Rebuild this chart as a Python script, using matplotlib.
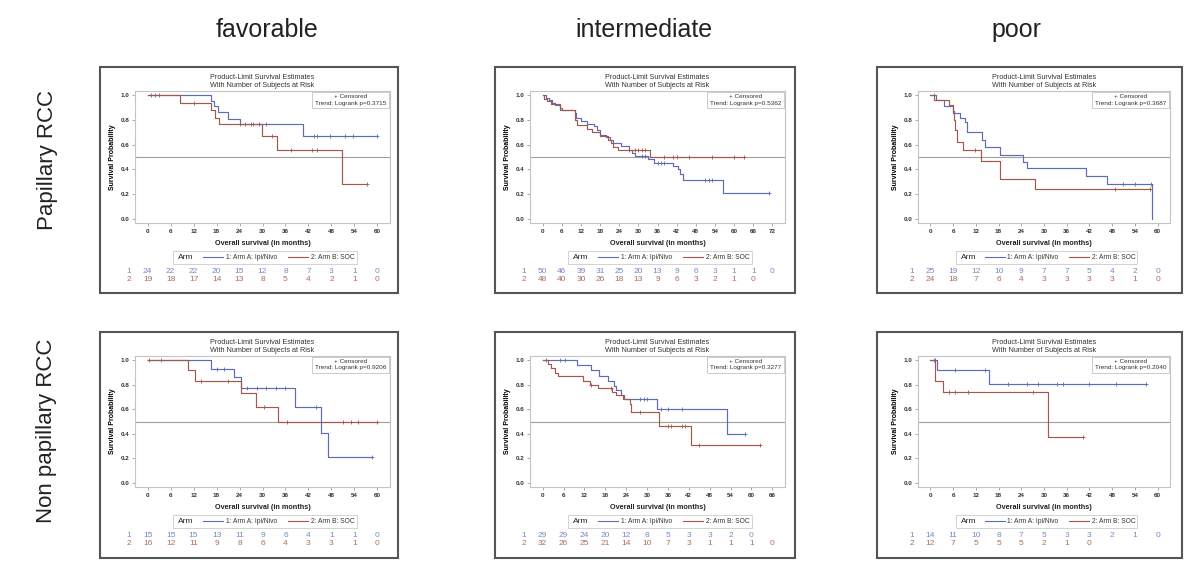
import numpy as np
import matplotlib.pyplot as plt
from matplotlib.patches import Rectangle

plt.rcParams['font.family'] = ['Liberation Sans', 'DejaVu Sans']

W, H = 1200, 581

col_titles = ['favorable', 'intermediate', 'poor']
row_titles = ['Papillary RCC', 'Non papillary RCC']

# ---- Papillary / favorable
pf_a_t = [0, 16.5, 17.4, 18.3, 21.1, 24, 40.5, 60]
pf_a_s = [1.0, 0.955, 0.91, 0.865, 0.81, 0.77, 0.67, 0.67]
pf_a_c = [1, 2, 3, 27, 29, 31, 43.5, 44.3, 47.7, 51.5, 53.6, 60]
pf_b_t = [0, 8.5, 16.5, 17.7, 18.6, 29.9, 33.7, 50.7, 57.3]
pf_b_s = [1.0, 0.94, 0.88, 0.82, 0.765, 0.67, 0.56, 0.28, 0.28]
pf_b_c = [12.2, 24, 25.5, 27.5, 32.5, 37.5, 43, 44.3, 57.3]
pf_risk_a = [24, 22, 22, 20, 15, 12, 8, 7, 3, 1, 0]
pf_risk_b = [19, 18, 17, 14, 13, 8, 5, 4, 2, 1, 0]

# ---- Papillary / intermediate
pi_a_t = [0, 1, 2, 3, 4, 5.5, 10, 10.5, 12, 14, 16, 17, 18, 20, 21, 22, 24.5, 27, 28, 29,
          33, 35, 41, 42.5, 43, 44, 56.5, 71]
pi_a_s = [1.0, 0.98, 0.96, 0.94, 0.92, 0.88, 0.86, 0.82, 0.79, 0.77, 0.75, 0.72, 0.68, 0.66,
          0.64, 0.61, 0.59, 0.56, 0.53, 0.51, 0.48, 0.45, 0.43, 0.40, 0.36, 0.31, 0.21, 0.21]
pi_a_c = [31, 32, 36, 37, 38, 51, 52, 53, 71]
pi_b_t = [0, 0.5, 1.5, 2.5, 5.5, 6, 10, 10.3, 10.8, 14, 15.5, 18, 20.5, 21.5, 22, 23.5, 33.5, 63]
pi_b_s = [1.0, 0.97, 0.95, 0.93, 0.90, 0.88, 0.85, 0.80, 0.76, 0.73, 0.70, 0.67, 0.64, 0.61,
          0.58, 0.555, 0.50, 0.50]
pi_b_c = [27, 29, 30, 31, 32, 38, 41, 42, 46, 53, 60, 63]
pi_risk_a = [50, 46, 39, 31, 25, 20, 13, 9, 6, 3, 1, 1, 0]
pi_risk_b = [48, 40, 30, 26, 18, 13, 9, 6, 3, 2, 1, 0]

# ---- Papillary / poor
pp_a_t = [0, 1.5, 3.7, 6, 7.9, 9, 9.6, 13.6, 14.3, 18.5, 24.5, 25.5, 41, 46.6, 58.6]
pp_a_s = [1.0, 0.96, 0.91, 0.86, 0.82, 0.78, 0.70, 0.64, 0.58, 0.52, 0.46, 0.41, 0.35, 0.28, 0.0]
pp_a_c = [1, 51, 54, 58.3]
pp_b_t = [0, 1, 4.9, 6, 6.3, 6.6, 7, 8.5, 13.3, 18.4, 27.7, 58]
pp_b_s = [1.0, 0.96, 0.92, 0.87, 0.80, 0.72, 0.62, 0.555, 0.47, 0.32, 0.24, 0.24]
pp_b_c = [11.7, 48.7, 58]
pp_risk_a = [25, 19, 12, 10, 9, 7, 7, 5, 4, 2, 0]
pp_risk_b = [24, 18, 7, 6, 4, 3, 3, 3, 3, 1, 0]

# ---- Non papillary / favorable
nf_a_t = [0, 16.5, 22.5, 24.5, 38.5, 45.2, 47, 58.5]
nf_a_s = [1.0, 0.93, 0.86, 0.77, 0.62, 0.41, 0.21, 0.21]
nf_a_c = [3.5, 18, 20, 26, 28.5, 31, 33.5, 36, 44, 58.5]
nf_b_t = [0, 10.5, 12.5, 24.5, 28.4, 34, 60]
nf_b_s = [1.0, 0.92, 0.83, 0.73, 0.62, 0.50, 0.50]
nf_b_c = [0.3, 14, 21, 30.5, 36.5, 51, 53, 55, 60]
nf_risk_a = [15, 15, 15, 13, 11, 9, 6, 4, 1, 1, 0]
nf_risk_b = [16, 12, 11, 9, 8, 6, 4, 3, 3, 1, 0]

# ---- Non papillary / intermediate
ni_a_t = [0, 10, 14, 16.3, 18.9, 20.4, 21, 22.5, 23.5, 32.9, 53.1, 58]
ni_a_s = [1.0, 0.96, 0.92, 0.87, 0.83, 0.79, 0.76, 0.72, 0.68, 0.60, 0.40, 0.40]
ni_a_c = [1, 5, 6.5, 28, 29, 30, 34, 36, 40, 58]
ni_b_t = [0, 1.5, 2.5, 3.5, 4.5, 11.5, 13.5, 16, 20, 21, 23, 25, 25.5, 33.5, 42.5, 62.5]
ni_b_s = [1.0, 0.97, 0.94, 0.90, 0.87, 0.83, 0.80, 0.77, 0.74, 0.72, 0.68, 0.64, 0.58, 0.46,
          0.31, 0.31]
ni_b_c = [14, 19.5, 28, 36, 37, 40, 41, 45, 62.5]
ni_risk_a = [29, 29, 24, 20, 12, 8, 5, 3, 3, 2, 0]
ni_risk_b = [32, 26, 25, 21, 14, 10, 7, 3, 1, 1, 1, 0]

# ---- Non papillary / poor
np_a_t = [0, 1.8, 15.5, 57]
np_a_s = [1.0, 0.92, 0.81, 0.81]
np_a_c = [0.8, 1.3, 6.5, 14.5, 20.5, 25.5, 28.5, 33.5, 35, 42, 49, 57]
np_b_t = [0, 1.2, 3.2, 31.1, 40.4]
np_b_s = [1.0, 0.83, 0.74, 0.37, 0.37]
np_b_c = [5, 6.5, 10, 27, 40.4]
np_risk_a = [14, 11, 10, 8, 7, 5, 3, 3, 2, 1, 0]
np_risk_b = [12, 7, 5, 5, 5, 2, 1, 0]

pvals = [['0.3715', '0.5362', '0.3687'], ['0.9206', '0.3277', '0.2040']]
xmax = [[60, 72, 60], [60, 66, 60]]

panels = [
    [(pf_a_t, pf_a_s, pf_a_c, pf_b_t, pf_b_s, pf_b_c, pf_risk_a, pf_risk_b),
     (pi_a_t, pi_a_s, pi_a_c, pi_b_t, pi_b_s, pi_b_c, pi_risk_a, pi_risk_b),
     (pp_a_t, pp_a_s, pp_a_c, pp_b_t, pp_b_s, pp_b_c, pp_risk_a, pp_risk_b)],
    [(nf_a_t, nf_a_s, nf_a_c, nf_b_t, nf_b_s, nf_b_c, nf_risk_a, nf_risk_b),
     (ni_a_t, ni_a_s, ni_a_c, ni_b_t, ni_b_s, ni_b_c, ni_risk_a, ni_risk_b),
     (np_a_t, np_a_s, np_a_c, np_b_t, np_b_s, np_b_c, np_risk_a, np_risk_b)],
]

# panel geometry in pixels: outer box x0,x1 and axes x0,x1
col_geo = [(100, 398, 135, 390), (495, 795, 530, 785), (877, 1182, 918, 1170)]
row_geo = [(67, 293, 91, 223), (332, 558, 356, 487)]
col_title_x = [267, 644, 1016]
row_title_y = [160, 431]

blue = '#5d6db3'
red = '#a5574c'
blue_txt = '#7a86c4'
red_txt = '#b06a5e'


def surv_at(t, s, x):
    t = np.asarray(t)
    s = np.asarray(s)
    i = np.searchsorted(t, x, side='right') - 1
    return s[np.clip(i, 0, len(s) - 1)]


fig = plt.figure(figsize=(W / 100, H / 100), dpi=100)
fig.patch.set_facecolor('white')

for j, title in enumerate(col_titles):
    fig.text(col_title_x[j] / W, 1 - 30 / H, title, ha='center', va='center',
             fontsize=18, color='#222222')

for i, title in enumerate(row_titles):
    fig.text(47 / W, 1 - row_title_y[i] / H, title, ha='center', va='center',
             rotation=90, fontsize=16, color='#222222')

for i in range(2):
    oy0, oy1, ay0, ay1 = row_geo[i]
    for j in range(3):
        ox0, ox1, ax0, ax1 = col_geo[j]
        a_t, a_s, a_c, b_t, b_s, b_c, risk_a, risk_b = panels[i][j]
        xm = xmax[i][j]

        fig.add_artist(Rectangle((ox0 / W, 1 - oy1 / H), (ox1 - ox0) / W, (oy1 - oy0) / H,
                                 transform=fig.transFigure, fill=False,
                                 ec='#555555', lw=1.5))

        ax = fig.add_axes([ax0 / W, 1 - ay1 / H, (ax1 - ax0) / W, (ay1 - ay0) / H])
        pad = 0.055 * xm
        ax.set_xlim(-pad, xm + pad)
        ax.set_ylim(-0.035, 1.035)
        for sp in ax.spines.values():
            sp.set_color('#c4c4c4')
            sp.set_linewidth(0.8)
        ax.set_xticks(np.arange(0, xm + 1, 6))
        ax.set_yticks(np.arange(0, 1.01, 0.2))
        ax.set_yticklabels(['%.1f' % v for v in np.arange(0, 1.01, 0.2)])
        ax.tick_params(labelsize=4.5, length=2, width=0.5, color='#888888', pad=2)
        for lab in ax.get_xticklabels() + ax.get_yticklabels():
            lab.set_fontweight('bold')
            lab.set_color('#333333')

        ax.axhline(0.5, color='#a0a0a0', lw=0.8)

        for t, s, c, col in [(a_t, a_s, a_c, blue), (b_t, b_s, b_c, red)]:
            ax.step(t, s, where='post', color=col, lw=0.85)
            ax.plot(c, surv_at(t, s, c), '+', color=col, ms=2.5, mew=0.6)

        ax.text(0.5, 1.105, 'Product-Limit Survival Estimates', transform=ax.transAxes,
                ha='center', va='center', fontsize=5.2, color='#333333')
        ax.text(0.5, 1.045, 'With Number of Subjects at Risk', transform=ax.transAxes,
                ha='center', va='center', fontsize=5.2, color='#333333')
        ax.text(0.985, 0.975, '+ Censored\nTrend: Logrank p=' + pvals[i][j],
                transform=ax.transAxes, ha='right', va='top', fontsize=4.6,
                multialignment='center', linespacing=1.3, color='#333333',
                bbox=dict(boxstyle='square,pad=0.4', fc='white', ec='#c4c4c4', lw=0.6))

        ax.set_ylabel('Survival Probability', fontsize=5, fontweight='bold', labelpad=3)
        ax.text(0.5, -0.155, 'Overall survival (in months)', transform=ax.transAxes,
                ha='center', va='center', fontsize=5.2, fontweight='bold', color='#222222')

        # legend
        ly = -0.26
        ax.add_patch(Rectangle((0.15, ly - 0.05), 0.72, 0.1, transform=ax.transAxes,
                               fill=False, ec='#cccccc', lw=0.6, clip_on=False))
        ax.text(0.2, ly, 'Arm', transform=ax.transAxes, ha='center', va='center',
                fontsize=6, color='#222222')
        ax.plot([0.265, 0.345], [ly, ly], transform=ax.transAxes, color=blue, lw=0.8,
                clip_on=False)
        ax.text(0.355, ly, '1: Arm A: Ipi/Nivo', transform=ax.transAxes, ha='left',
                va='center', fontsize=4.8, color='#333333')
        ax.plot([0.60, 0.68], [ly, ly], transform=ax.transAxes, color=red, lw=0.8,
                clip_on=False)
        ax.text(0.69, ly, '2: Arm B: SOC', transform=ax.transAxes, ha='left',
                va='center', fontsize=4.8, color='#333333')

        # number at risk
        trans = ax.get_xaxis_transform()
        for k, (risk, colr, yy) in enumerate([(risk_a, blue_txt, -0.37),
                                              (risk_b, red_txt, -0.43)]):
            ax.text(-0.025, yy, str(k + 1), transform=ax.transAxes, ha='center',
                    va='center', fontsize=6, color=colr)
            for n, v in enumerate(risk):
                ax.text(6 * n, yy, str(v), transform=trans, ha='center', va='center',
                        fontsize=6, color=colr)

fig.savefig('out.png', dpi=100)
